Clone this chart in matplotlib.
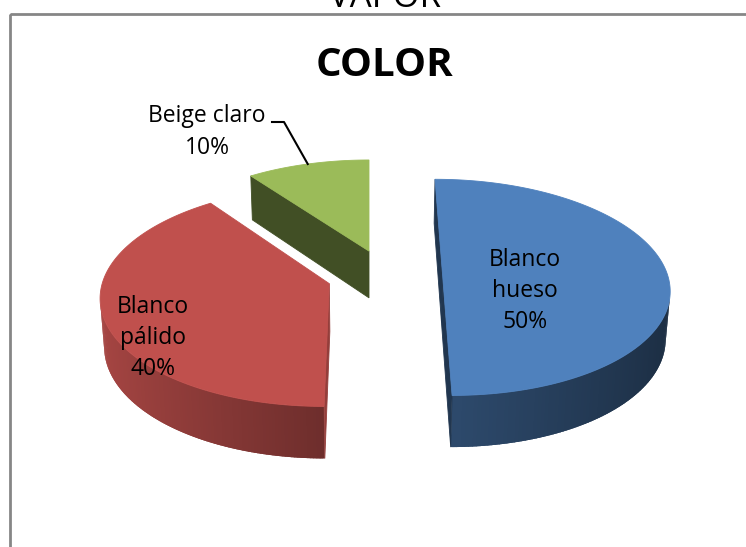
import numpy as np
import matplotlib.pyplot as plt
from matplotlib.patches import Polygon, Rectangle
from matplotlib.colors import to_rgb

# datos del grafico
categorias = ['Blanco\nhueso', 'Blanco\npálido', 'Beige claro']
porcentajes = [50, 40, 10]
colores = ['#4F81BD', '#C0504D', '#9BBB59']
# separacion de cada porcion (en radios): x a la derecha, y hacia el fondo
sep_x = [0.327, -0.175, 0.0]
sep_y = [0.0, -0.08, 0.23]

# camara / perspectiva (pixeles)
cx, cy = 369, 275
F = 225.0
D = 7.7
phi = np.radians(28.3)
H = 0.244
c, s = np.cos(phi), np.sin(phi)
camara = np.array([0.0, -D * c, D * s])


def proyectar(X, Y, Z):
    X, Y, Z = np.asarray(X, float), np.asarray(Y, float), np.asarray(Z, float)
    yc = Y * s + Z * c
    zc = D + Y * c - Z * s
    return cx + F * D * X / zc, cy - F * D * yc / zc


def sombra(color, k):
    r, g, b = to_rgb(color)
    return (r * k, g * k, b * k)


def visible(normal, punto):
    return np.dot(normal, camara - punto) > 0


fig = plt.figure(figsize=(7.46, 5.47), dpi=100)
ax = fig.add_axes([0, 0, 1, 1])
ax.set_xlim(0, 746)
ax.set_ylim(547, 0)
ax.axis('off')

# marco del area del grafico
ax.add_patch(Rectangle((10, 14), 800, 600, fill=False, edgecolor='#868686', lw=2))
ax.text(385, 7, 'VAPOR', ha='center', va='baseline', fontsize=25,
        family='Open Sans', color='black')
ax.text(385, 66, 'COLOR', ha='center', va='center', fontsize=29,
        family='Open Sans', fontweight='bold')

fracciones = np.array(porcentajes) / sum(porcentajes)
limites = np.concatenate([[0], np.cumsum(fracciones)]) * 2 * np.pi

# de la porcion mas lejana a la mas cercana
orden = np.argsort(-np.array(sep_y))
for i in orden:
    t1, t2 = limites[i], limites[i + 1]
    ex, ey = sep_x[i], sep_y[i]
    col = colores[i]

    # pared exterior en tiras (solapadas para que no se vean juntas)
    ts = np.linspace(t1, t2, 200)
    paso = ts[1] - ts[0]
    for a, b in zip(ts[:-1], ts[1:]):
        m = (a + b) / 2
        n = np.array([np.sin(m), np.cos(m), 0])
        p = np.array([ex + np.sin(m), ey + np.cos(m), -H / 2])
        if not visible(n, p):
            continue
        sn = np.sin(m)
        k = 0.57 - 0.3 * sn if sn < 0 else 0.57 - 0.22 * sn
        a0, b0 = max(a - paso * 0.6, t1), min(b + paso * 0.6, t2)
        X = ex + np.sin([a0, b0, b0, a0])
        Y = ey + np.cos([a0, b0, b0, a0])
        Z = [0, 0, -H, -H]
        px, py = proyectar(X, Y, Z)
        ax.add_patch(Polygon(np.c_[px, py], closed=True, fc=sombra(col, k),
                             ec='none', lw=0))

    # caras de corte
    for t, n in [(t1, np.array([-np.cos(t1), np.sin(t1), 0])),
                 (t2, np.array([np.cos(t2), -np.sin(t2), 0]))]:
        p = np.array([ex + 0.5 * np.sin(t), ey + 0.5 * np.cos(t), -H / 2])
        if not visible(n, p):
            continue
        k = 0.42 + 0.35 * max(0, n[0])
        X = [ex, ex + np.sin(t), ex + np.sin(t), ex]
        Y = [ey, ey + np.cos(t), ey + np.cos(t), ey]
        Z = [0, 0, -H, -H]
        px, py = proyectar(X, Y, Z)
        ax.add_patch(Polygon(np.c_[px, py], closed=True, fc=sombra(col, k),
                             ec=sombra(col, k), lw=0.6))

    # cara superior
    X = np.concatenate([[ex], ex + np.sin(ts)])
    Y = np.concatenate([[ey], ey + np.cos(ts)])
    px, py = proyectar(X, Y, np.zeros_like(X))
    ax.add_patch(Polygon(np.c_[px, py], closed=True, fc=col, ec=col, lw=0.6))

# etiquetas de datos
etiquetas = [f'{n}\n{p}%' for n, p in zip(categorias, porcentajes)]
ax.text(525, 291, etiquetas[0], ha='center', va='center', fontsize=16.5,
        family='Open Sans', linespacing=1.4)
ax.text(153, 338, etiquetas[1], ha='center', va='center', fontsize=16.5,
        family='Open Sans', linespacing=1.4)
ax.text(207, 132, etiquetas[2], ha='center', va='center', fontsize=16.5,
        family='Open Sans', linespacing=1.4)

# linea guia de Beige claro
tm = (limites[2] + limites[3]) / 2
lx, ly = proyectar(sep_x[2] + np.sin(tm), sep_y[2] + np.cos(tm), 0)
ax.plot([272, 284, lx], [122, 122, ly], color='black', lw=1.5)

fig.savefig('out.png', dpi=100)
